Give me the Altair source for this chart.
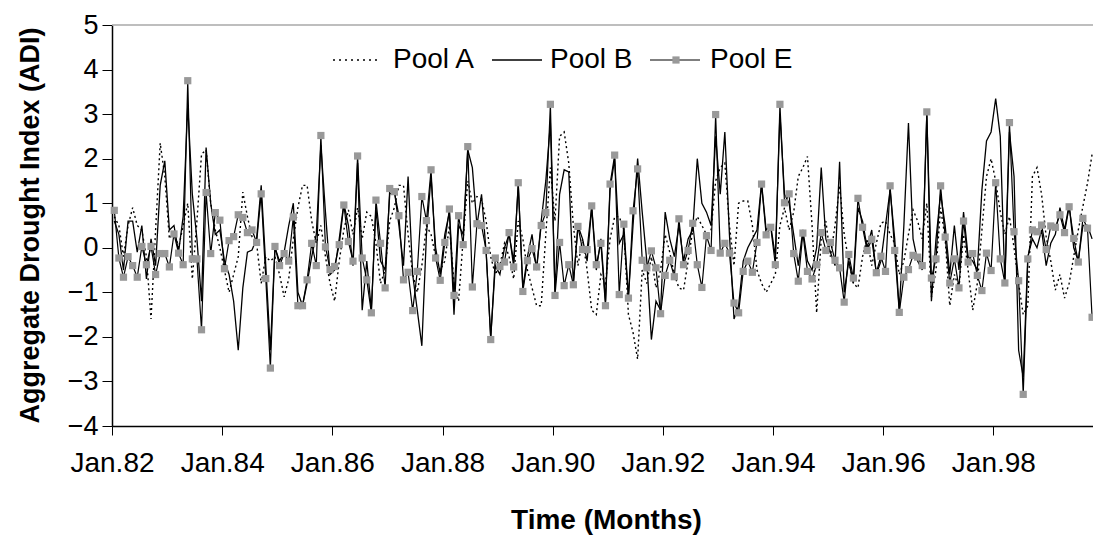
import altair as alt
import pandas as pd

# ---------------- data ----------------
start_year = 1982
n_months = 214  # Jan 1982 .. Oct 1999 visible

pool_e = [
    0.84, -0.23, -0.66, -0.20, -0.40, -0.66, 0.03, -0.38, 0.03, -0.60,
    -0.13, -0.13, -0.43, 0.31, -0.12, -0.38, 3.75, -0.25, -0.25, -1.84,
    1.24, -0.13, 0.79, 0.62, -0.47, 0.16, 0.25, 0.74, 0.68, 0.34,
    0.40, 0.12, 1.21, -0.69, -2.70, 0.03, -0.40, -0.13, -0.30, 0.69,
    -1.30, -1.30, -0.72, 0.10, -0.40, 2.52, 0.02, -0.49, -0.42, 0.07,
    0.96, 0.14, -0.30, 2.06, -0.23, -0.72, -1.46, 1.07, 0.10, -0.90,
    1.33, 1.26, 0.72, -0.72, -0.55, -1.41, -0.53, 1.15, 0.61, 1.75,
    -0.23, -0.73, 0.12, 0.87, -1.07, 0.72, 0.07, 2.27, -0.88, 0.54,
    0.50, -0.06, -2.06, -0.23, -0.42, -0.32, 0.34, -0.43, 1.46, -0.98,
    -0.29, -0.02, -0.43, 0.50, 0.79, 3.22, -1.07, 0.12, -0.85, -0.38,
    -0.83, 0.48, -0.04, -0.04, 0.94, -0.38, 0.10, -1.30, 1.43, 2.08,
    -1.05, 0.53, -1.13, 0.83, 1.77, -0.28, -0.45, -0.07, -0.45, -1.48,
    -0.62, -0.28, -0.65, 0.65, -0.38, -0.06, 0.55, -0.38, -0.89, 0.27,
    -0.06, 2.99, -0.12, 0.10, -0.12, -1.24, -1.46, -0.53, -0.30, -0.55,
    0.12, 1.43, 0.29, 0.46, -0.38, 3.22, 1.01, 1.21, -0.13, -0.75,
    0.33, -0.53, -0.70, -0.38, 0.34, -0.06, 0.12, -0.28, -0.45, -1.22,
    -0.15, -0.68, 1.11, 0.46, -0.06, 0.19, -0.56, -0.19, -0.53, 1.39,
    -0.06, -1.45, -0.66, -0.49, -0.17, -0.21, -0.40, 3.05, -0.68, -0.25,
    1.39, 0.24, -0.79, -0.25, -0.90, 0.60, -0.32, -0.13, -0.62, -0.96,
    -0.12, -0.51, 1.46, -0.25, -0.79, 2.81, 0.36, -0.74, -3.29, -0.25,
    0.40, 0.36, 0.51, -0.04, 0.49, 0.46, 0.74, 0.34, 0.92, 0.21,
    -0.32, 0.66, 0.44, -1.56,
]

pool_b = [
    0.6, 0.3, -0.5, 0.6, 0.6, -0.1, 0.5, -0.7, 0.2, -0.4,
    1.4, 1.95, 0.4, 0.5, -0.1, 0.7, 3.2, 1.2, 0.2, -1.2,
    2.25, 1.0, 0.3, 0.4, -0.3, -0.6, -1.2, -2.3, -0.9, -0.1,
    -0.05, 0.2, 1.4, -0.4, -2.3, 0.0, -0.3, -0.1, 0.5, 1.0,
    -1.0, -1.3, -0.8, -0.2, 0.3, 2.3, 0.8, -0.6, -0.5, 0.2,
    1.0, 0.5, -0.4, 1.9, -1.4, -0.3, -1.4, 0.9, -0.3, -0.5,
    1.2, 1.3, 0.5, -0.4, 1.6, -0.6, -1.4, -2.2, 0.3, 1.6,
    0.0, -0.6, 0.3, 0.8, -1.5, 0.5, 0.3, 2.2, 1.8, 0.5,
    1.2, -0.1, -2.0, -0.4, -0.6, 0.0, 0.3, -0.3, 1.4, -0.9,
    -0.2, 0.3, -0.5, 0.6, 1.5, 2.8, -1.0, 1.2, 1.75, 1.7,
    -0.8, 0.5, 0.2, -0.3, 0.9, -0.5, 0.2, -1.2, 1.3, 2.0,
    0.1, 0.3, -1.1, 0.5, 2.0, 0.8, -0.3, -2.06, -1.2, -1.4,
    0.8, 0.2, -0.2, 0.5, -0.3, 0.2, 0.4, 2.0, 1.0, 0.8,
    0.5, 2.5, 1.2, 2.6, 0.3, -1.6, -1.3, -0.3, 0.0, 0.2,
    0.4, 1.45, 0.4, 0.5, -0.2, 3.0, 1.2, 1.0, 0.3, -0.4,
    0.4, -0.3, -0.5, 0.0, 1.8, 0.2, -0.1, -0.4, 1.93, -1.0,
    -0.3, -0.8, 0.9, 0.6, 0.0, 0.4, -0.6, -0.3, 0.5, 1.3,
    0.2, -1.4, 0.5, 2.8, 0.2, -0.3, -0.5, 3.0, -1.2, 0.2,
    1.2, 0.5, -0.6, 0.5, -0.5, 0.8, -0.2, -0.3, -0.5, 1.3,
    2.4, 2.6, 3.35, 2.5, -0.8, 2.6, 1.6, -2.3, -2.9, -0.2,
    0.2, 0.0, 0.4, -0.4, 0.1, 0.3, 0.9, 0.4, 0.97, 0.0,
    -0.3, 0.5, 0.5, 0.2,
]

pool_a = [
    0.7, 0.5, -0.2, 0.5, 0.9, 0.5, 0.4, -0.2, -1.6, 0.4,
    2.35, 1.6, 0.2, 0.4, 0.0, 0.5, 1.0, -0.7, 0.6, 2.1,
    2.2, 1.0, 0.4, 0.0, -0.5, -1.0, -0.6, -0.2, 1.25, 0.7,
    0.25, 0.1, -0.8, -0.2, -0.3, -0.2, -0.6, -1.1, -0.7, 0.2,
    0.9, 1.4, 1.4, 0.6, 0.1, 0.5, -0.2, -0.8, -1.2, -0.3,
    0.4, 0.85, 0.3, 0.9, 0.2, 0.8, 0.7, 0.1, -0.8, -0.5,
    0.6, 0.9, 1.4, 1.4, 0.3, -0.6, -1.0, -0.4, 0.5, 0.3,
    -0.2, -0.5, -0.3, 0.5, -0.8, -1.2, 0.2, 1.5, 1.0, 1.15,
    1.1, 0.6, -0.2, -0.6, -0.4, 0.1, -0.2, -0.7, 0.6, 0.2,
    -0.5, -0.9, -1.3, -1.3, 0.3, 1.8, 0.6, 2.5, 2.6, 1.9,
    0.5, -0.4, 0.2, -0.5, -1.4, -1.5, -0.6, -0.8, 0.2, 0.7,
    0.7, 0.4, -1.5, -1.9, -2.5, -0.5, -0.8, -0.2, -0.9, -0.5,
    0.3, -0.1, -0.6, -0.9, -0.95, -0.3, 0.4, 0.7, 0.5, 0.3,
    0.4, 1.5, 1.8, 1.9, 0.5, -0.4, 1.0, 1.05, 1.05, 0.5,
    -0.5, -0.8, -1.0, -0.8, -0.6, 0.5, 0.9, 0.4, 0.8, 1.6,
    1.8, 2.05, 0.5, -1.46, 0.2, 0.6, -0.2, 0.5, 1.4, 0.3,
    -0.3, -0.8, -0.9, -0.2, 0.2, -0.4, 0.1, 0.55, 0.6, 0.3,
    0.1, -0.6, -0.3, 0.3, 0.85, 0.6, 0.2, 1.0, -1.1, -0.5,
    0.9, 0.2, -1.3, -0.6, -0.9, 0.3, -0.5, -1.4, -0.8, 0.4,
    1.6, 2.0, 1.5, 0.8, 0.3, 0.7, 0.0, -0.8, -1.5, -1.3,
    1.6, 1.8, 1.2, 0.25, -0.3, -0.95, -0.6, -1.13, -0.8, -0.2,
    0.4, 0.93, 1.45, 2.1,
]

series_names = ["Pool A", "Pool B", "Pool E"]
tick_labels = ["Jan.82", "Jan.84", "Jan.86", "Jan.88", "Jan.90",
               "Jan.92", "Jan.94", "Jan.96", "Jan.98"]
y_ticks = [-4, -3, -2, -1, 0, 1, 2, 3, 4, 5]

# ---------------- table ----------------
idx = [i + 0.5 for i in range(n_months)]  # each month centred in its slot
df = pd.DataFrame({"t": idx, "Pool A": pool_a, "Pool B": pool_b, "Pool E": pool_e})
long = df.melt(id_vars="t", var_name="series", value_name="adi")

FONT = "Liberation Sans"
W, H = 981, 401
tick_pos = [24 * k for k in range(len(tick_labels))]
label_expr = "[" + ",".join(f"'{s}'" for s in tick_labels) + "][round(datum.value/24)]"

x_enc = alt.X(
    "t:Q",
    scale=alt.Scale(domain=[0, 213.7], nice=False, zero=False),
    axis=alt.Axis(
        values=tick_pos, labelExpr=label_expr, grid=False,
        tickSize=9, tickColor="black", domainColor="black", domainWidth=1.5,
        labelFont=FONT, labelFontSize=28, labelColor="black", labelPadding=14,
        labelFlush=False, labelOverlap=False,
        title="Time (Months)", titleFont=FONT, titleFontSize=28, titleFontWeight="bold",
        titleColor="black", titleX=494, titleY=102, titleBaseline="alphabetic",
        titleAnchor="start", titleAlign="center",
    ),
)
y_enc = alt.Y(
    "adi:Q",
    scale=alt.Scale(domain=[-4, 5], nice=False, zero=False),
    axis=alt.Axis(
        values=y_ticks, grid=False, format="d",
        tickSize=10, tickColor="black", domainColor="black", domainWidth=1.5,
        labelFont=FONT, labelFontSize=27, labelColor="black", labelPadding=4,
        labelFlush=False, labelOverlap=False,
        title="Aggregate Drought Index (ADI)", titleFont=FONT, titleFontSize=27,
        titleFontWeight="bold", titleColor="black", titleAngle=270,
        titleX=-82, titleY=200, titleBaseline="middle", titleAlign="center",
        titleAnchor="start",
    ),
)

base = alt.Chart(long)

line_a = base.transform_filter(alt.datum.series == "Pool A").mark_line(
    color="black", strokeWidth=1.4, strokeDash=[2, 3]
).encode(x=x_enc, y=y_enc)
line_b = base.transform_filter(alt.datum.series == "Pool B").mark_line(
    color="black", strokeWidth=1.3
).encode(x="t:Q", y="adi:Q")
line_e = base.transform_filter(alt.datum.series == "Pool E").mark_line(
    color="black", strokeWidth=1.2
).encode(x="t:Q", y="adi:Q")
pts_e = base.transform_filter(alt.datum.series == "Pool E").mark_point(
    shape="square", filled=True, size=52, color="#999999", opacity=1
).encode(x="t:Q", y="adi:Q")

top_line = alt.Chart(pd.DataFrame({"top": [5]})).mark_rule(
    color="#a8a8a8", strokeWidth=1.5
).encode(y="top:Q")

# ---------------- legend (top, inside plot) ----------------
LY = 35
def leg_text(label, x):
    return alt.Chart(pd.DataFrame({"label": [label]})).mark_text(
        align="left", baseline="middle", font=FONT, fontSize=28, color="black"
    ).encode(text="label:N", x=alt.value(x), y=alt.value(LY))

def leg_line(x1, x2, dash=None, w=1.4):
    kw = dict(color="black", strokeWidth=w)
    if dash:
        kw["strokeDash"] = dash
    return alt.Chart(pd.DataFrame({"k": [0]})).mark_rule(**kw).encode(
        x=alt.value(x1), x2=alt.value(x2), y=alt.value(LY)
    )

leg_pt = alt.Chart(pd.DataFrame({"k": [0]})).mark_point(
    shape="square", filled=True, size=52, color="#999999", opacity=1
).encode(x=alt.value(564), y=alt.value(LY))

legend = [
    leg_line(221, 265, dash=[2, 4]), leg_text(series_names[0], 281),
    leg_line(380, 430), leg_text(series_names[1], 438),
    leg_line(538, 588, w=1.2), leg_pt, leg_text(series_names[2], 598),
]

chart = alt.layer(top_line, line_a, line_b, line_e, pts_e, *legend).properties(
    width=W, height=H,
    autosize=alt.AutoSizeParams(type="none"),
    padding={"left": 112, "top": 25, "right": 0, "bottom": 112},
    background="white",
).configure_view(stroke=None)

chart.save("out.html", embed_options={"renderer": "svg", "actions": False})
